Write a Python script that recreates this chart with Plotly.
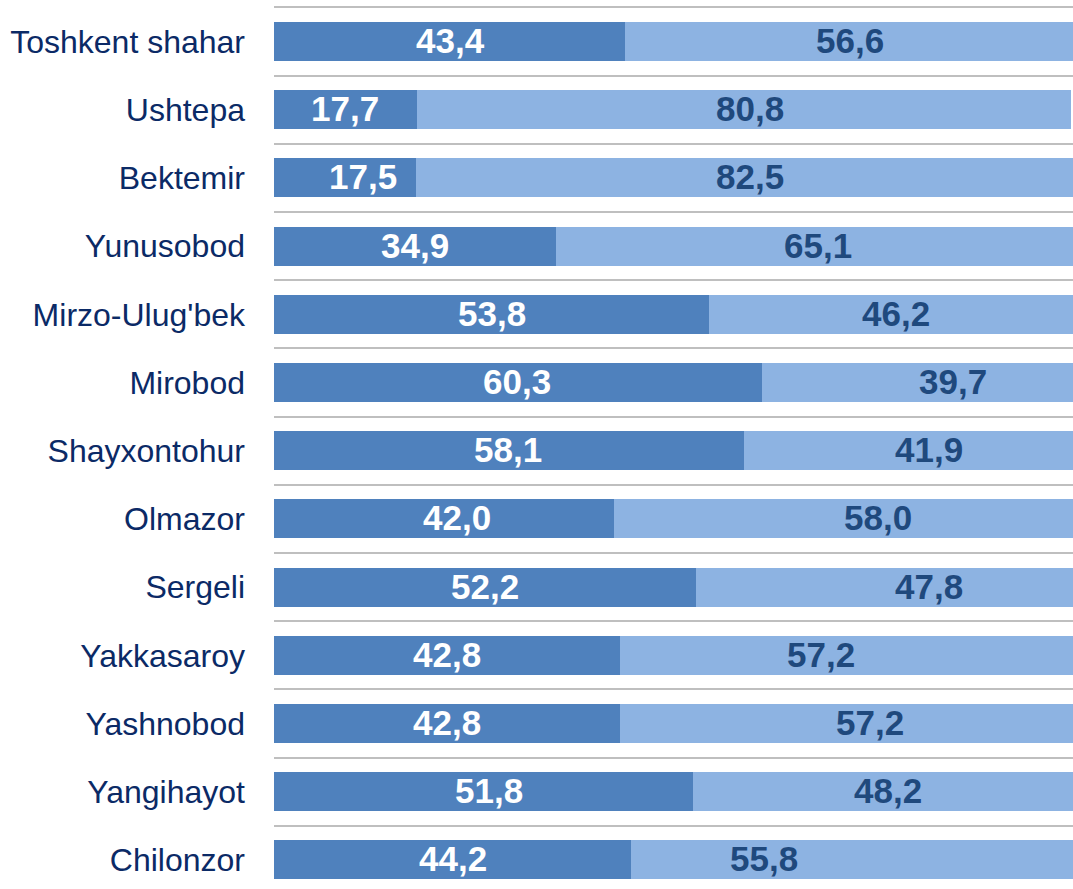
import plotly.graph_objects as go

categories = ["Toshkent shahar", "Ushtepa", "Bektemir", "Yunusobod", "Mirzo-Ulug'bek",
              "Mirobod", "Shayxontohur", "Olmazor", "Sergeli", "Yakkasaroy",
              "Yashnobod", "Yangihayot", "Chilonzor"]
dark_values = [43.4, 17.7, 17.5, 34.9, 53.8, 60.3, 58.1, 42.0, 52.2, 42.8, 42.8, 51.8, 44.2]
light_values = [56.6, 80.8, 82.5, 65.1, 46.2, 39.7, 41.9, 58.0, 47.8, 57.2, 57.2, 48.2, 55.8]

# label centre positions (data units) as placed in the original chart
dark_label_x = [21.8, 8.8, 11.0, 17.4, 26.9, 30.1, 28.9, 22.6, 26.1, 21.4, 21.4, 26.6, 22.1]
light_label_x = [71.2, 58.9, 58.8, 67.3, 76.9, 83.9, 81.0, 74.7, 81.0, 67.7, 73.7, 75.9, 60.6]

DARK = "#4F81BD"
LIGHT = "#8DB3E2"
LIGHT_TXT = "#1F497D"
TICK_TXT = "#0B2A66"


def fmt(v):
    return f"<b>{v:.1f}</b>".replace(".", ",")


fig = go.Figure()
fig.add_trace(go.Bar(y=categories, x=dark_values, orientation="h",
                     marker=dict(color=DARK, line=dict(width=0)), hoverinfo="skip"))
fig.add_trace(go.Bar(y=categories, x=light_values, orientation="h",
                     marker=dict(color=LIGHT, line=dict(width=0)), hoverinfo="skip"))

annotations = []
for c, v, x in zip(categories, dark_values, dark_label_x):
    annotations.append(dict(x=x, y=c, xref="x", yref="y", text=fmt(v), showarrow=False,
                            xanchor="center", yanchor="middle", yshift=1,
                            font=dict(family="Liberation Sans, Arial", size=35, color="white")))
for c, v, x in zip(categories, light_values, light_label_x):
    annotations.append(dict(x=x, y=c, xref="x", yref="y", text=fmt(v), showarrow=False,
                            xanchor="center", yanchor="middle", yshift=1,
                            font=dict(family="Liberation Sans, Arial", size=35, color=LIGHT_TXT)))

pitch = 68.2
top_px = 5
plot_h = 889 - top_px
y_top = -0.5 - (7.4 - top_px) / pitch
y_bottom = y_top + plot_h / pitch

fig.update_layout(
    width=1073, height=889,
    margin=dict(l=274, r=0, t=top_px, b=0, pad=0),
    barmode="stack", bargap=0.43,
    plot_bgcolor="white", paper_bgcolor="white",
    showlegend=False,
    annotations=annotations,
    font=dict(family="Liberation Sans, Arial"),
    xaxis=dict(range=[0, 98.8], visible=False, showgrid=False, zeroline=False, fixedrange=True),
    yaxis=dict(type="category", categoryorder="array", categoryarray=categories,
               range=[y_bottom, y_top], tickson="boundaries", ticks="",
               showgrid=True, gridcolor="#BFBFBF", gridwidth=2,
               showline=False, zeroline=False, ticklabelstandoff=28,
               tickfont=dict(family="Liberation Sans, Arial", size=32, color=TICK_TXT)),
)

fig.write_html(
    "out.html",
    config={"responsive": False, "displayModeBar": False},
    post_script="document.body.style.margin='0';document.body.style.overflow='hidden';",
)
